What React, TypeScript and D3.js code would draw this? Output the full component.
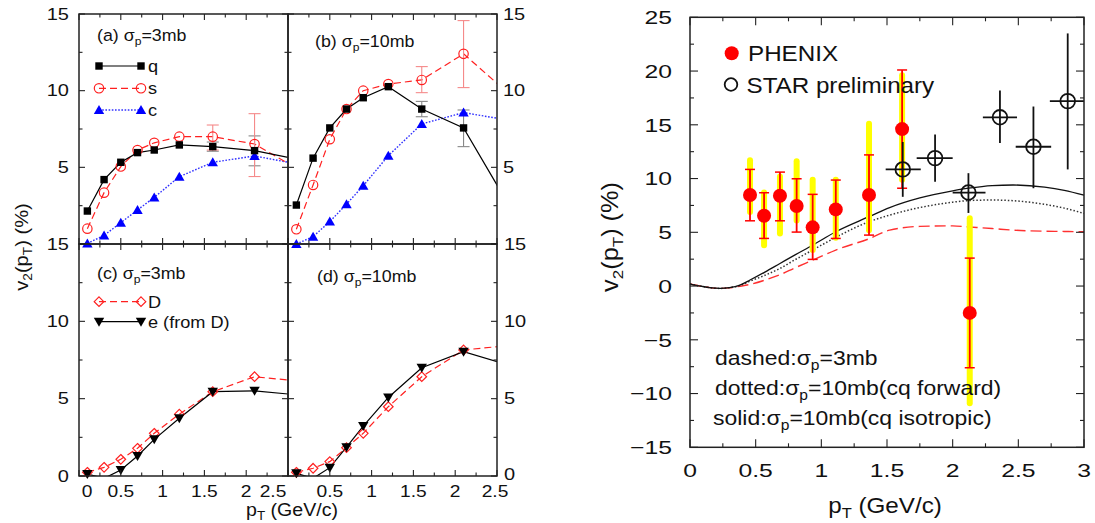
import React from 'react';
import * as d3 from 'd3';

// ---------- Left panels data (pT in GeV/c, v2 in %) ----------
const leftPt = [0.1, 0.3, 0.5, 0.7, 0.9, 1.2, 1.6, 2.1, 2.6];
const aQ = [2.15, 4.2, 5.33, 5.96, 6.13, 6.46, 6.35, 6.09, 5.54];
const aS = [1.0, 3.35, 5.05, 6.13, 6.6, 7.0, 7.0, 6.52, 4.95];
const aC = [0.04, 0.56, 1.39, 2.22, 3.04, 4.39, 5.33, 5.74, 5.23];
const bQ = [2.54, 5.6, 7.57, 8.8, 9.54, 10.26, 8.8, 7.57, 2.92];
const bS = [0.96, 3.85, 6.83, 8.8, 10.0, 10.43, 10.7, 12.4, 10.0];
const bC = [0.0, 0.48, 1.46, 2.6, 3.8, 5.76, 7.83, 8.57, 8.11];
const cD = [0.24, 0.56, 1.08, 1.79, 2.76, 4.0, 5.45, 6.42, 6.15];
const cE = [0.13, -0.15, 0.39, 1.29, 2.37, 3.73, 5.45, 5.51, 5.25];
const dD = [0.24, 0.5, 0.93, 1.83, 2.76, 4.48, 6.42, 8.15, 8.41];
const dE = [0.17, -0.15, 0.54, 1.86, 3.23, 5.08, 7.0, 8.04, 7.23];

// error bars: [pT, low, high]
const aQErr = [[1.6, 6.05, 6.65], [2.1, 5.1, 7.05]];
const aSErr = [[1.6, 6.13, 7.76], [2.1, 4.4, 8.5]];
const bQErr = [[1.6, 8.3, 9.3], [2.1, 6.35, 8.74]];
const bSErr = [[1.6, 9.87, 11.57], [2.1, 10.2, 14.57]];

// ---------- Right panel data ----------
const phenixX = [0.457, 0.564, 0.685, 0.812, 0.934, 1.11, 1.363, 1.615, 2.13];
const phenixY = [8.47, 6.54, 8.4, 7.44, 5.46, 7.13, 8.47, 14.6, -2.5];
const phenixErrLo = [6.07, 4.43, 6.07, 5.02, 2.48, 4.43, 4.74, 9.1, -7.6];
const phenixErrHi = [10.85, 8.68, 10.6, 9.98, 8.53, 9.86, 12.2, 20.1, 2.6];
const phenixSysLo = [6.9, 3.8, 4.9, 6.1, 3.35, 4.5, 5.2, 9.9, -10.9];
const phenixSysHi = [11.7, 8.7, 10.2, 11.6, 9.9, 9.9, 15.1, 19.6, 6.3];

const starX = [1.62, 1.866, 2.12, 2.36, 2.615, 2.876];
const starY = [10.85, 11.9, 8.7, 15.7, 12.96, 17.2];
const starYLo = [8.3, 9.7, 6.8, 13.3, 9.1, 10.85];
const starYHi = [13.4, 14.1, 10.5, 18.2, 16.7, 23.5];
const starXLo = [1.49, 1.726, 2.0, 2.23, 2.48, 2.74];
const starXHi = [1.757, 2.0, 2.25, 2.49, 2.75, 3.0];

const curveX = [0, 0.08, 0.15, 0.23, 0.3, 0.38, 0.457, 0.57, 0.685, 0.8, 0.934, 1.11, 1.363, 1.52, 1.75, 2.0, 2.12, 2.3, 2.46, 2.7, 2.85, 3.0];
const solidV = [0.19, 0.0, -0.15, -0.22, -0.15, 0.09, 0.56, 1.3, 2.1, 2.9, 3.8, 5.05, 6.45, 7.3, 8.2, 8.85, 9.1, 9.35, 9.4, 9.2, 8.9, 8.45];
const dottedV = [0.19, 0.0, -0.15, -0.22, -0.15, 0.05, 0.45, 1.0, 1.64, 2.45, 3.35, 4.53, 5.98, 6.6, 7.3, 7.8, 7.95, 8.0, 7.94, 7.6, 7.25, 6.75];
const dashedV = [0.19, 0.0, -0.15, -0.22, -0.17, -0.02, 0.15, 0.55, 1.05, 1.7, 2.4, 3.35, 4.4, 5.2, 5.55, 5.6, 5.5, 5.35, 5.2, 5.1, 5.08, 5.05];

const leftYLabelsTop = [15, 10, 5];
const leftYLabelsBottom = [15, 10, 5, 0];
const leftXLabelsC = ['0', '0.5', '1', '1.5', '2', '2.5'];
const leftXLabelsD = ['0.5', '1', '1.5', '2', '2.5'];
const rightYTicks = [25, 20, 15, 10, 5, 0, -5, -10, -15];
const rightXTicks = ['0', '0.5', '1', '1.5', '2', '2.5', '3'];

const FONT = "'Liberation Sans', Arial, Helvetica, sans-serif";

function Txt({ x, y, size, sx = 1.12, anchor = 'start', rot = 0, fill = '#111', children }: any) {
  return (
    <text
      transform={`translate(${x},${y})${rot ? ` rotate(${rot})` : ''} scale(${sx},1)`}
      fontSize={size}
      textAnchor={anchor}
      fontFamily={FONT}
      fill={fill}
    >
      {children}
    </text>
  );
}

function Marker({ kind, x, y }: any) {
  switch (kind) {
    case 'square':
      return <rect x={x - 3.7} y={y - 3.7} width={7.4} height={7.4} fill="#000" />;
    case 'circle':
      return <circle cx={x} cy={y} r={4.7} fill="none" stroke="#ff2020" strokeWidth={1.2} />;
    case 'tri':
      return <path d={`M${x},${y - 5}L${x + 5.2},${y + 4}L${x - 5.2},${y + 4}Z`} fill="#0000ff" />;
    case 'diamond':
      return <path d={`M${x},${y - 4.8}L${x + 4.8},${y}L${x},${y + 4.8}L${x - 4.8},${y}Z`} fill="none" stroke="#ff2020" strokeWidth={1.2} />;
    case 'tridown':
      return <path d={`M${x - 5.2},${y - 4}L${x + 5.2},${y - 4}L${x},${y + 5}Z`} fill="#000" />;
  }
  return null;
}

const STYLES: any = {
  q: { color: '#000', dash: null, width: 1.2, marker: 'square', err: '#888' },
  s: { color: '#ff2020', dash: '7,4', width: 1.2, marker: 'circle', err: '#f58a8a' },
  c: { color: '#3030ff', dash: '1.6,1.6', width: 1.4, marker: 'tri', err: '#88f' },
  D: { color: '#ff2020', dash: '7,4', width: 1.2, marker: 'diamond', err: '#f58a8a' },
  e: { color: '#000', dash: null, width: 1.2, marker: 'tridown', err: '#888' },
};

function LeftPanel({ id, x0, x1, yb, yt, series, errs }: any) {
  const xs = d3.scaleLinear().domain([0, 2.5]).range([x0, x1]);
  const ys = d3.scaleLinear().domain([0, 15]).range([yb, yt]);
  const line = d3.line<[number, number]>().x((d) => xs(d[0])).y((d) => ys(d[1]));
  const xMinor = d3.range(0, 2.5001, 0.25);
  const yMinor = d3.range(0, 15.001, 2.5);
  const isMajX = (v: number) => Math.abs(v / 0.5 - Math.round(v / 0.5)) < 1e-6;
  const isMajY = (v: number) => Math.abs(v / 5 - Math.round(v / 5)) < 1e-6;
  return (
    <g>
      <defs>
        <clipPath id={id}>
          <rect x={x0} y={yt} width={x1 - x0} height={yb - yt} />
        </clipPath>
      </defs>
      <g clipPath={`url(#${id})`}>
        {series.map((s: any, i: number) => {
          const st = STYLES[s.key];
          const pts = leftPt.map((p, j) => [p, s.vals[j]] as [number, number]);
          return (
            <path key={i} d={line(pts) || ''} fill="none" stroke={st.color} strokeWidth={st.width} strokeDasharray={st.dash || undefined} />
          );
        })}
      </g>
      {errs.map((e: any, i: number) => {
        const st = STYLES[e.key];
        return e.rows.map((r: number[], j: number) => (
          <g key={`${i}-${j}`} stroke={st.err} strokeWidth={1.1}>
            <line x1={xs(r[0])} x2={xs(r[0])} y1={ys(r[1])} y2={ys(r[2])} />
            <line x1={xs(r[0]) - 6} x2={xs(r[0]) + 6} y1={ys(r[1])} y2={ys(r[1])} />
            <line x1={xs(r[0]) - 6} x2={xs(r[0]) + 6} y1={ys(r[2])} y2={ys(r[2])} />
          </g>
        ));
      })}
      {series.map((s: any, i: number) => {
        const st = STYLES[s.key];
        return leftPt.map((p, j) =>
          p <= 2.5 && s.vals[j] >= 0 ? <Marker key={`${i}-${j}`} kind={st.marker} x={xs(p)} y={ys(s.vals[j])} /> : null
        );
      })}
      <rect x={x0} y={yt} width={x1 - x0} height={yb - yt} fill="none" stroke="#222" strokeWidth={1.5} />
      {xMinor.map((v, i) => {
        const L = isMajX(v) ? 6 : 3.5;
        return (
          <g key={`xt${i}`} stroke="#222" strokeWidth={1.1}>
            <line x1={xs(v)} x2={xs(v)} y1={yb} y2={yb - L} />
            <line x1={xs(v)} x2={xs(v)} y1={yt} y2={yt + L} />
          </g>
        );
      })}
      {yMinor.map((v, i) => {
        const L = isMajY(v) ? 6 : 3.5;
        return (
          <g key={`yt${i}`} stroke="#222" strokeWidth={1.1}>
            <line x1={x0} x2={x0 + L} y1={ys(v)} y2={ys(v)} />
            <line x1={x1} x2={x1 - L} y1={ys(v)} y2={ys(v)} />
          </g>
        );
      })}
    </g>
  );
}

function Legend({ x, y, key2, label }: any) {
  const st = STYLES[key2];
  return (
    <g>
      <line x1={x} x2={x + 42} y1={y} y2={y} stroke={st.color} strokeWidth={st.width} strokeDasharray={st.dash || undefined} />
      <Marker kind={st.marker} x={x} y={y} />
      <Marker kind={st.marker} x={x + 42} y={y} />
      <Txt x={x + 49} y={y + 6} size={16.5} sx={1.1}>{label}</Txt>
    </g>
  );
}

function Sig({ x, y, size, sub, rest, sx = 1.12 }: any) {
  return (
    <Txt x={x} y={y} size={size} sx={sx}>
      {sub[0]}
      <tspan fontSize={size * 0.68} dy={size * 0.25}>p</tspan>
      <tspan dy={-size * 0.25}>{rest}</tspan>
    </Txt>
  );
}

function RightPanel() {
  const x0 = 690, x1 = 1084, yt = 17.3, yb = 447.3;
  const xs = d3.scaleLinear().domain([0, 3]).range([x0, x1]);
  const ys = d3.scaleLinear().domain([-15, 25]).range([yb, yt]);
  const line = d3.line<number>().x((_, i) => xs(curveX[i])).y((d) => ys(d)).curve(d3.curveMonotoneX);
  const xMinor = d3.range(0, 3.0001, 0.25);
  const yMinor = d3.range(-15, 25.001, 2.5);
  return (
    <g>
      <path d={line(dashedV) || ''} fill="none" stroke="#ff3030" strokeWidth={1.4} strokeDasharray="11,5" />
      <path d={line(dottedV) || ''} fill="none" stroke="#333" strokeWidth={1.5} strokeDasharray="1.5,2" />
      <path d={line(solidV) || ''} fill="none" stroke="#111" strokeWidth={1.3} />
      {phenixX.map((p, i) => (
        <line key={`sy${i}`} x1={xs(p)} x2={xs(p)} y1={ys(phenixSysLo[i])} y2={ys(phenixSysHi[i])} stroke="#ffff00" strokeWidth={6} strokeLinecap="round" />
      ))}
      {phenixX.map((p, i) => (
        <g key={`pe${i}`} stroke="#ff0000" strokeWidth={1.8}>
          <line x1={xs(p)} x2={xs(p)} y1={ys(phenixErrLo[i])} y2={ys(phenixErrHi[i])} />
          <line x1={xs(p) - 5} x2={xs(p) + 5} y1={ys(phenixErrLo[i])} y2={ys(phenixErrLo[i])} strokeWidth={1.5} />
          <line x1={xs(p) - 5} x2={xs(p) + 5} y1={ys(phenixErrHi[i])} y2={ys(phenixErrHi[i])} strokeWidth={1.5} />
        </g>
      ))}
      {phenixX.map((p, i) => (
        <circle key={`pc${i}`} cx={xs(p)} cy={ys(phenixY[i])} r={7} fill="#ff0000" />
      ))}
      {starX.map((p, i) => (
        <g key={`st${i}`} stroke="#111" strokeWidth={1.8} fill="none">
          <line x1={xs(p)} x2={xs(p)} y1={ys(starYLo[i])} y2={ys(starYHi[i])} />
          <line x1={xs(starXLo[i])} x2={xs(starXHi[i])} y1={ys(starY[i])} y2={ys(starY[i])} />
          <circle cx={xs(p)} cy={ys(starY[i])} r={7.3} />
        </g>
      ))}
      <rect x={x0} y={yt} width={x1 - x0} height={yb - yt} fill="none" stroke="#222" strokeWidth={1.5} />
      {xMinor.map((v, i) => {
        const L = Math.abs(v * 2 - Math.round(v * 2)) < 1e-6 ? 8 : 4;
        return (
          <g key={`rx${i}`} stroke="#222" strokeWidth={1.1}>
            <line x1={xs(v)} x2={xs(v)} y1={yb} y2={yb - L} />
            <line x1={xs(v)} x2={xs(v)} y1={yt} y2={yt + L} />
          </g>
        );
      })}
      {yMinor.map((v, i) => {
        const L = Math.abs(v / 5 - Math.round(v / 5)) < 1e-6 ? 8 : 4;
        return (
          <g key={`ry${i}`} stroke="#222" strokeWidth={1.1}>
            <line x1={x0} x2={x0 + L} y1={ys(v)} y2={ys(v)} />
            <line x1={x1} x2={x1 - L} y1={ys(v)} y2={ys(v)} />
          </g>
        );
      })}
      {rightYTicks.map((v) => (
        <Txt key={`yl${v}`} x={672} y={ys(v) + 6.8} size={19} sx={1.3} anchor="end">
          {v < 0 ? `\u2212${-v}` : `${v}`}
        </Txt>
      ))}
      {rightXTicks.map((t) => (
        <Txt key={`xl${t}`} x={xs(+t)} y={476.5} size={19} sx={1.3} anchor="middle">{t}</Txt>
      ))}
      <Txt x={885} y={513} size={22} sx={1.1} anchor="middle">
        p<tspan fontSize={15} dy={5}>T</tspan><tspan dy={-5}> (GeV/c)</tspan>
      </Txt>
      <Txt x={618} y={237} size={23} sx={1.1} rot={-90} anchor="middle">
        v<tspan fontSize={15.5} dy={5}>2</tspan><tspan dy={-5}>(p</tspan><tspan fontSize={15.5} dy={5}>T</tspan><tspan dy={-5}>) (%)</tspan>
      </Txt>
      <circle cx={731.7} cy={53.3} r={7} fill="#ff0000" />
      <Txt x={748} y={61} size={22} sx={1.1}>PHENIX</Txt>
      <circle cx={731} cy={84.5} r={6.3} fill="none" stroke="#111" strokeWidth={1.8} />
      <Txt x={746.5} y={92.5} size={22} sx={1.1}>STAR preliminary</Txt>
      <Sig x={715} y={365} size={20.5} sub={['dashed:\u03c3']} rest="=3mb" />
      <Sig x={715} y={395} size={20.5} sub={['dotted:\u03c3']} rest="=10mb(cq forward)" />
      <Sig x={713} y={425} size={20.5} sub={['solid:\u03c3']} rest="=10mb(cq isotropic)" />
    </g>
  );
}

export default function App() {
  const XA0 = 79, XA1 = 288, XB1 = 497;
  const YT = 14, YM = 244, YB = 476;
  const ysTop = d3.scaleLinear().domain([0, 15]).range([YM, YT]);
  const ysBot = d3.scaleLinear().domain([0, 15]).range([YB, YM]);
  const xsC = d3.scaleLinear().domain([0, 2.5]).range([XA0, XA1]);
  const xsD = d3.scaleLinear().domain([0, 2.5]).range([XA1, XB1]);
  const xLabelPosC = (t: string) => (t === '0' ? xsC(0) + 8 : t === '2.5' ? xsC(2.5) - 15 : xsC(+t));
  return (
    <svg width={1095} height={523} style={{ position: 'absolute', left: 0, top: 0, background: '#fff' }}>
      <rect x={0} y={0} width={1095} height={523} fill="#fff" />
      <LeftPanel id="pa" x0={XA0} x1={XA1} yb={YM} yt={YT}
        series={[{ key: 'c', vals: aC }, { key: 's', vals: aS }, { key: 'q', vals: aQ }]}
        errs={[{ key: 'q', rows: aQErr }, { key: 's', rows: aSErr }]} />
      <LeftPanel id="pb" x0={XA1} x1={XB1} yb={YM} yt={YT}
        series={[{ key: 'c', vals: bC }, { key: 's', vals: bS }, { key: 'q', vals: bQ }]}
        errs={[{ key: 'q', rows: bQErr }, { key: 's', rows: bSErr }]} />
      <LeftPanel id="pc" x0={XA0} x1={XA1} yb={YB} yt={YM}
        series={[{ key: 'D', vals: cD }, { key: 'e', vals: cE }]} errs={[]} />
      <LeftPanel id="pd" x0={XA1} x1={XB1} yb={YB} yt={YM}
        series={[{ key: 'D', vals: dD }, { key: 'e', vals: dE }]} errs={[]} />

      <Sig x={97} y={41} size={16.5} sub={['(a) \u03c3']} rest="=3mb" sx={1.08} />
      <Legend x={99} y={66} key2="q" label="q" />
      <Legend x={99} y={88.3} key2="s" label="s" />
      <Legend x={99} y={110} key2="c" label="c" />
      <Sig x={315} y={47} size={16.5} sub={['(b) \u03c3']} rest="=10mb" sx={1.08} />
      <Sig x={97} y={279} size={16.5} sub={['(c) \u03c3']} rest="=3mb" sx={1.08} />
      <Legend x={99} y={301.7} key2="D" label="D" />
      <Legend x={99} y={321.7} key2="e" label="e (from D)" />
      <Sig x={317} y={282} size={16.5} sub={['(d) \u03c3']} rest="=10mb" sx={1.08} />

      {leftYLabelsTop.map((v) => (
        <g key={`lt${v}`}>
          <Txt x={69} y={ysTop(v) + 5.8} size={16} sx={1.25} anchor="end">{v}</Txt>
          <Txt x={503} y={ysTop(v) + 5.8} size={16} sx={1.25}>{v}</Txt>
        </g>
      ))}
      {leftYLabelsBottom.map((v) => (
        <g key={`lb${v}`}>
          <Txt x={69} y={ysBot(v) + 5.8} size={16} sx={1.25} anchor="end">{v}</Txt>
          <Txt x={504} y={ysBot(v) + (v === 0 ? 4.2 : 5.8)} size={16} sx={1.25}>{v}</Txt>
        </g>
      ))}
      {leftXLabelsC.map((t) => (
        <Txt key={`xc${t}`} x={xLabelPosC(t)} y={496.5} size={16} sx={1.2} anchor="middle">{t}</Txt>
      ))}
      {leftXLabelsD.map((t) => (
        <Txt key={`xd${t}`} x={t === '2.5' ? xsD(+t) - 2 : xsD(+t)} y={496.5} size={16} sx={1.2} anchor="middle">{t}</Txt>
      ))}
      <Txt x={292} y={516} size={17.5} sx={1.12} anchor="middle">
        p<tspan fontSize={12} dy={4}>T</tspan><tspan dy={-4}> (GeV/c)</tspan>
      </Txt>
      <Txt x={28} y={247} size={17.5} sx={1.15} rot={-90} anchor="middle">
        v<tspan fontSize={12} dy={4}>2</tspan><tspan dy={-4}>(p</tspan><tspan fontSize={12} dy={4}>T</tspan><tspan dy={-4}>) (%)</tspan>
      </Txt>

      <RightPanel />
    </svg>
  );
}
